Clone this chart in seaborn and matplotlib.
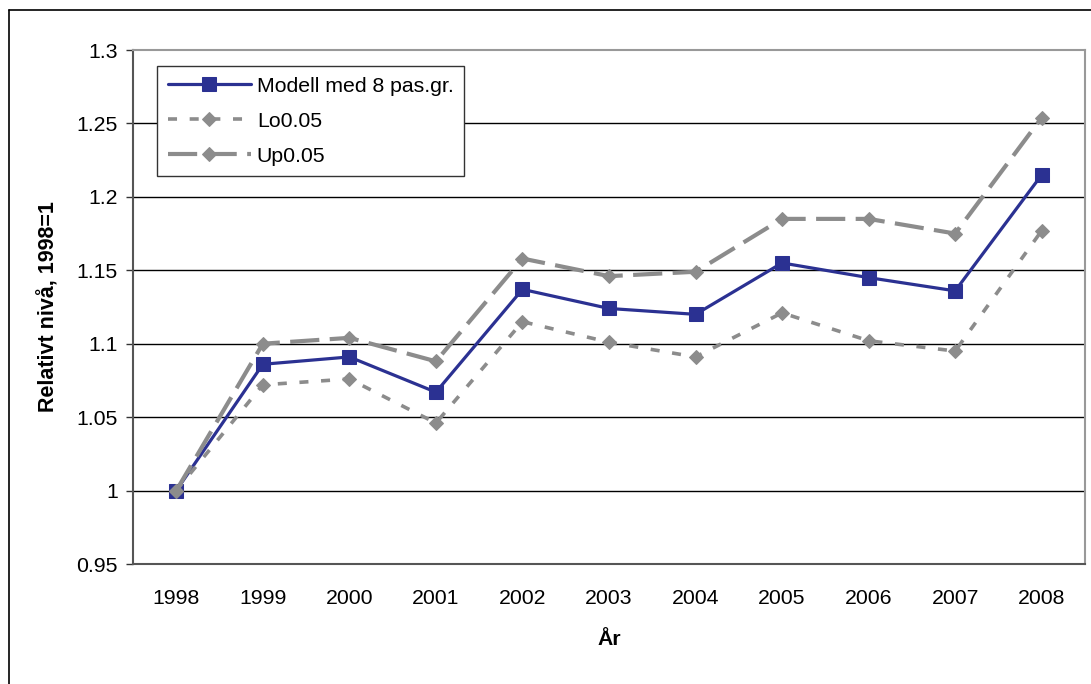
import matplotlib
matplotlib.use("Agg")
import matplotlib.pyplot as plt
import seaborn as sns
import pandas as pd
from matplotlib.lines import Line2D

years = ["1998", "1999", "2000", "2001", "2002", "2003", "2004", "2005", "2006", "2007", "2008"]
modell = [1.000, 1.086, 1.091, 1.067, 1.137, 1.124, 1.120, 1.155, 1.145, 1.136, 1.215]
lo = [1.000, 1.072, 1.076, 1.046, 1.115, 1.101, 1.091, 1.121, 1.102, 1.095, 1.177]
up = [1.000, 1.100, 1.104, 1.088, 1.158, 1.146, 1.149, 1.185, 1.185, 1.175, 1.254]
yticks = [0.95, 1.0, 1.05, 1.1, 1.15, 1.2, 1.25, 1.3]
ytick_labels = ["0.95", "1", "1.05", "1.1", "1.15", "1.2", "1.25", "1.3"]

sns.set_style("white")
plt.rcParams["font.family"] = ["Liberation Sans", "DejaVu Sans"]
plt.rcParams["text.color"] = "black"
plt.rcParams["axes.labelcolor"] = "black"
plt.rcParams["xtick.labelcolor"] = "black"
plt.rcParams["ytick.labelcolor"] = "black"

fig = plt.figure(figsize=(10.91, 6.84), dpi=100)
ax = fig.add_axes([133 / 1091, 1 - 564 / 684, (1085 - 133) / 1091, (564 - 50) / 684])

idx = list(range(len(years)))
df = pd.DataFrame({"idx": idx, "Modell": modell, "Lo": lo, "Up": up})

navy = "#2B3192"
gray = "#8C8C8C"
fs = 15.3

sns.lineplot(data=df, x="idx", y="Modell", ax=ax, color=navy, linewidth=2.3,
             marker="s", markersize=10, markeredgecolor=navy, markerfacecolor=navy,
             label="Modell med 8 pas.gr.", zorder=3)
sns.lineplot(data=df, x="idx", y="Lo", ax=ax, color=gray, linewidth=2.6,
             marker="D", markersize=7, markeredgecolor=gray, markerfacecolor=gray,
             label="Lo0.05", zorder=4)
sns.lineplot(data=df, x="idx", y="Up", ax=ax, color=gray, linewidth=3.0,
             marker="D", markersize=7, markeredgecolor=gray, markerfacecolor=gray,
             label="Up0.05", zorder=4)
lines = ax.get_lines()
lines[1].set_dashes([2.5, 3.5])
lines[2].set_dashes([7, 2.5])

ax.set_xlim(-0.5, len(years) - 0.5)
ax.set_ylim(0.95, 1.3)
ax.set_yticks(yticks)
ax.set_yticklabels(ytick_labels, fontsize=fs)
ax.set_xticks(idx)
ax.set_xticklabels(years, fontsize=fs)
ax.set_xticks([i - 0.5 for i in range(len(years) + 1)], minor=True)
ax.tick_params(axis="x", which="major", length=0, pad=18, labelcolor="black")
ax.tick_params(axis="x", which="minor", length=5, width=1, color="#555555", direction="out")
ax.tick_params(axis="y", which="major", length=5, width=1, color="#333333", direction="out",
               left=True, pad=6, labelcolor="black")

for y in yticks[1:-1]:
    ax.axhline(y, color="black", linewidth=1, zorder=1)

for side in ["top", "right"]:
    ax.spines[side].set_visible(True)
    ax.spines[side].set_color("#999999")
    ax.spines[side].set_linewidth(1.5)
for side in ["left", "bottom"]:
    ax.spines[side].set_color("#555555")
    ax.spines[side].set_linewidth(1.5)

ax.set_xlabel("År", fontsize=fs, fontweight="bold", labelpad=16, color="black")
ax.set_ylabel("Relativt nivå, 1998=1", fontsize=15.5, fontweight="bold", labelpad=12, color="black")

leg = ax.legend(loc="upper left", bbox_to_anchor=(24 / 952, 1 - 16 / 514), fontsize=fs,
                frameon=True, fancybox=False, edgecolor="#333333", handlelength=3.9,
                borderaxespad=0, labelspacing=0.75, handletextpad=0.3, borderpad=0.5,
                framealpha=1)
leg.get_frame().set_linewidth(1.0)
leg.set_zorder(10)
for t in leg.get_texts():
    t.set_color("black")

fx = 9 / 1091
fy = 1 - 10 / 684
fig.add_artist(Line2D([fx, fx], [0, fy], transform=fig.transFigure, color="black", linewidth=1.2))
fig.add_artist(Line2D([fx, 1], [fy, fy], transform=fig.transFigure, color="black", linewidth=1.2))

fig.savefig("out.png", dpi=100)
